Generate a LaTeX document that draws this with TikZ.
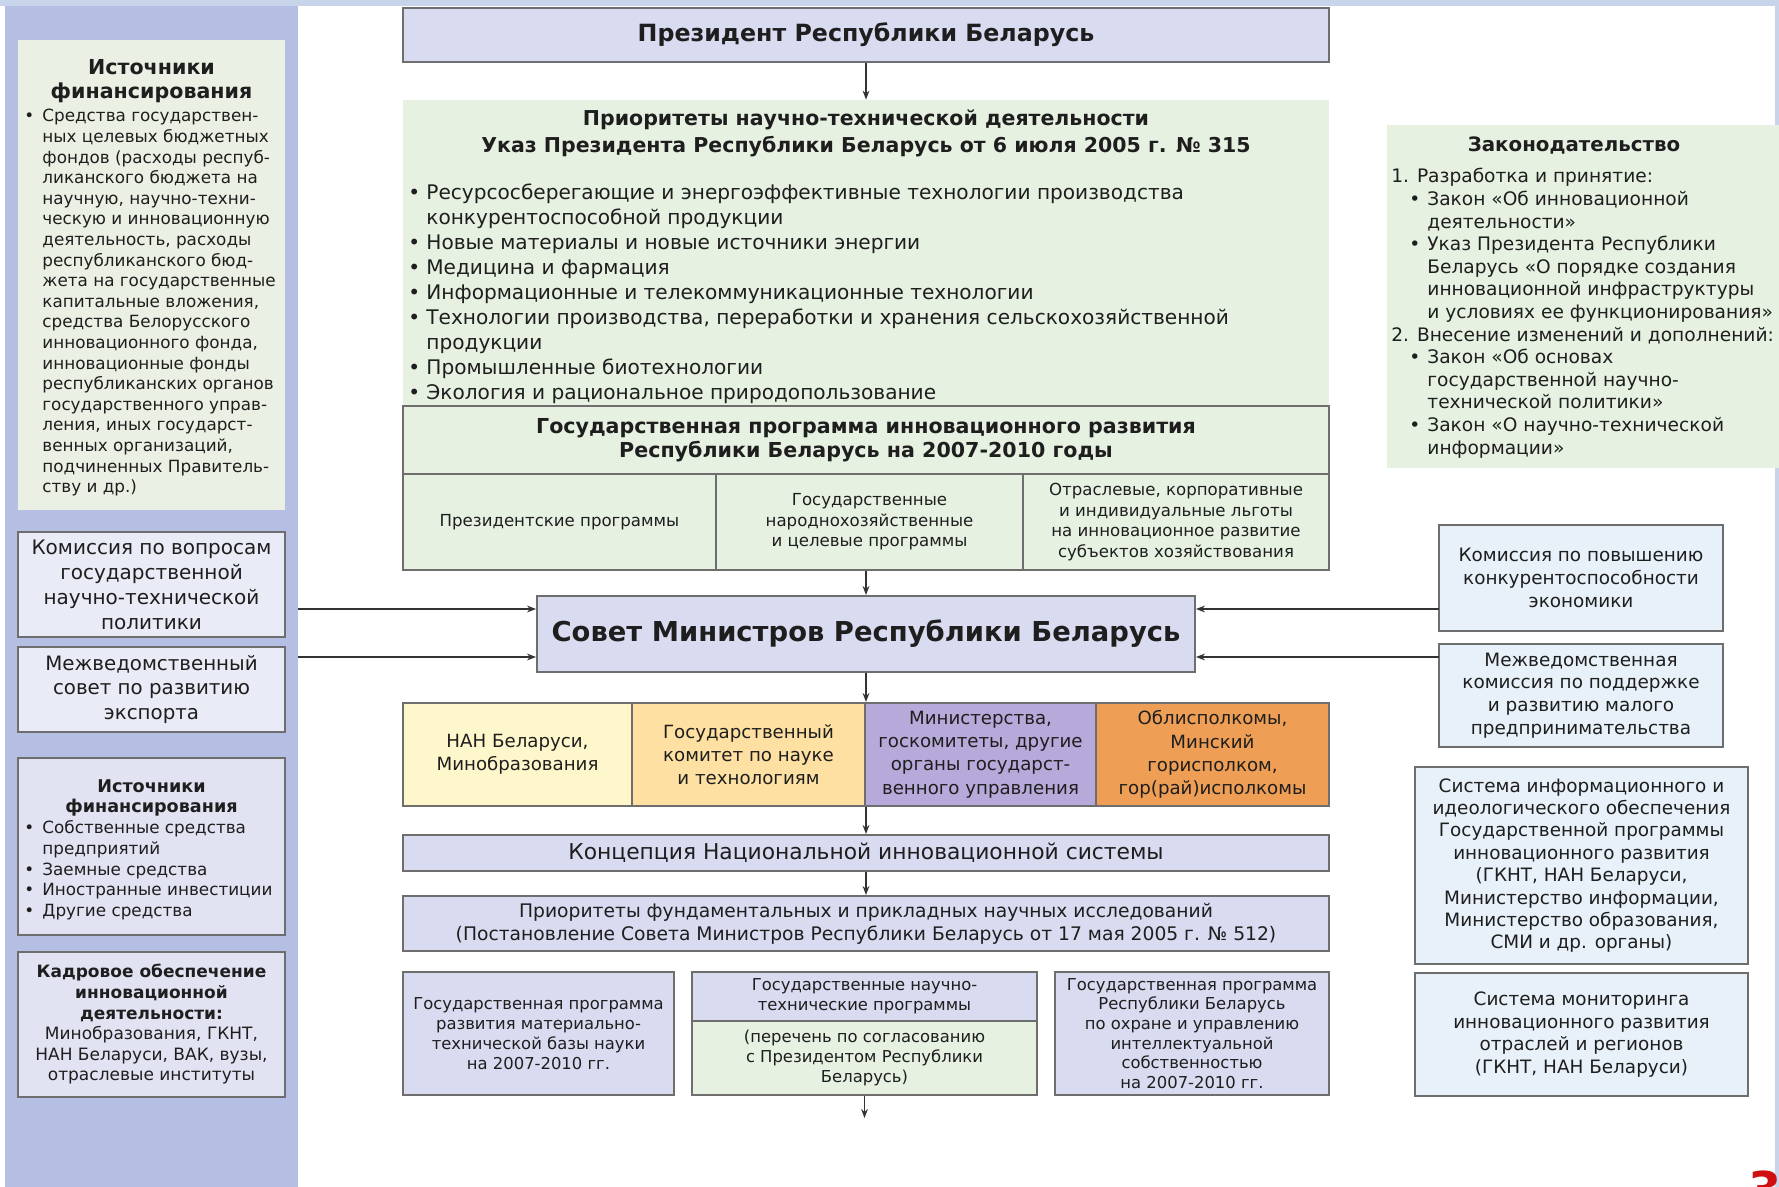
\documentclass[tikz,border=0pt]{standalone}
\usepackage{fontspec}
\setmainfont{DejaVu Sans}
\usetikzlibrary{arrows.meta}
\definecolor{panel}{HTML}{B5BFE3}
\definecolor{lgreen}{HTML}{E7F1E2}
\definecolor{lgreenb}{HTML}{EAF1E4}
\definecolor{lav}{HTML}{D9DBF0}
\definecolor{lav2}{HTML}{E1E3F3}
\definecolor{lav3}{HTML}{E9ECF6}
\definecolor{lblue}{HTML}{E8F1F9}
\definecolor{bline}{HTML}{6E6E6E}
\definecolor{txt}{HTML}{1E1E1E}
\definecolor{cyel}{HTML}{FFF7CC}
\definecolor{cora}{HTML}{FDE0A2}
\definecolor{cpur}{HTML}{B7A9D9}
\definecolor{corg}{HTML}{EE9F55}
\definecolor{slide}{HTML}{C8D4EA}
\definecolor{pnum}{HTML}{D01010}
\newcommand\fsz[2]{\fontsize{#1}{#2}\selectfont}
\newcommand\bu{\makebox[9pt][l]{•}}
\newcommand\bi{\hspace*{9pt}}
\tikzset{
 bx/.style={draw=bline, line width=1pt, inner sep=0pt, text=txt, align=center},
 nb/.style={inner sep=0pt, text=txt, align=center},
 lst/.style={inner sep=0pt, text=txt, align=left, anchor=north west},
 arr/.style={draw=black!80, line width=0.7pt, -{Stealth[length=4.5pt,width=3.4pt]}},
}
\begin{document}
\begin{tikzpicture}[x=0.5pt,y=-0.5pt]
\useasboundingbox (0,0) rectangle (1779,1187);
\fill[white] (0,0) rectangle (1779,1187);
\fill[slide] (0,0) rectangle (1779,6);
\fill[slide] (1775,0) rectangle (1779,1187);

% ---------- left panel ----------
\node[fill=panel, inner sep=0pt, minimum width=146.5pt, minimum height=590.5pt] (panel) at (151.5,596.5) {};
\node[nb, fill=lgreenb, minimum width=133.5pt, minimum height=235pt] (src1) at (151.5,275) {};
\node[nb, font={\fsz{10.3}{12}\bfseries}] (src1h) at (151.5,81) {Источники\\финансирования};
\node[lst, font={\fsz{8.4}{10.3}}] (src1l) at (24,109) {%
\bu Средства государствен-\\
\bi ных целевых бюджетных\\
\bi фондов (расходы респуб-\\
\bi ликанского бюджета на\\
\bi научную, научно-техни-\\
\bi ческую и инновационную\\
\bi деятельность, расходы\\
\bi республиканского бюд-\\
\bi жета на государственные\\
\bi капитальные вложения,\\
\bi средства Белорусского\\
\bi инновационного фонда,\\
\bi инновационные фонды\\
\bi республиканских органов\\
\bi государственного управ-\\
\bi ления, иных государст-\\
\bi венных организаций,\\
\bi подчиненных Правитель-\\
\bi ству и др.)};

\node[bx, fill=lav3, minimum width=133.5pt, minimum height=52.5pt, font={\fsz{10}{12.5}}] (kom1) at (151.5,584.5)
 {Комиссия по вопросам\\государственной\\научно-технической\\политики};
\node[bx, fill=lav3, minimum width=133.5pt, minimum height=42.5pt, font={\fsz{9.9}{12.3}}] (mezh1) at (151.5,689.5)
 {Межведомственный\\совет по развитию\\экспорта};
\node[bx, fill=lav2, minimum width=133.5pt, minimum height=88.5pt] (src2) at (151.5,846.5) {};
\node[nb, font={\fsz{8.8}{10.4}\bfseries}] (src2h) at (151.5,798) {Источники\\финансирования};
\node[lst, font={\fsz{8.4}{10.4}}] (src2l) at (24,820) {%
\bu Собственные средства\\
\bi предприятий\\
\bu Заемные средства\\
\bu Иностранные инвестиции\\
\bu Другие средства};
\node[bx, fill=lav2, minimum width=133.5pt, minimum height=72.5pt, font={\fsz{8.5}{10.3}}] (kadr) at (151.5,1024.5)
 {\bfseries Кадровое обеспечение\\\bfseries инновационной\\\bfseries деятельности:\\Минобразования, ГКНТ,\\НАН Беларуси, ВАК, вузы,\\отраслевые институты};

\coordinate (lk1) at (298,609);
\coordinate (lk2) at (298,657);

% ---------- centre ----------
\node[bx, fill=lav, minimum width=463pt, minimum height=27pt, font={\fsz{11.85}{14}\bfseries}] (pres) at (866,35)
 {Президент Республики Беларусь};
\node[nb, fill=lgreen, minimum width=463pt, minimum height=153pt] (prior) at (866,253) {};
\node[nb, font={\fsz{10.25}{13.5}\bfseries}] (priorh) at (866,133) {Приоритеты научно-технической деятельности\\Указ Президента Республики Беларусь от 6 июля 2005 г. № 315};
\node[lst, font={\fsz{10.05}{12.5}}] (priorl) at (408,183) {%
\bu Ресурсосберегающие и энергоэффективные технологии производства\\
\bi конкурентоспособной продукции\\
\bu Новые материалы и новые источники энергии\\
\bu Медицина и фармация\\
\bu Информационные и телекоммуникационные технологии\\
\bu Технологии производства, переработки и хранения сельскохозяйственной\\
\bi продукции\\
\bu Промышленные биотехнологии\\
\bu Экология и рациональное природопользование};

\node[bx, fill=lgreen, minimum width=463pt, minimum height=34pt, font={\fsz{10.3}{12}\bfseries}] (gp) at (866,440)
 {Государственная программа инновационного развития\\Республики Беларусь на 2007-2010 годы};
\node[bx, fill=lgreen, minimum width=156.5pt, minimum height=48pt, font={\fsz{8.3}{10.2}}] (c1) at (559.5,522)
 {Президентские программы};
\node[bx, fill=lgreen, minimum width=153.5pt, minimum height=48pt, font={\fsz{8.3}{10.2}}] (c2) at (869.5,522)
 {Государственные\\народнохозяйственные\\и целевые программы};
\node[bx, fill=lgreen, minimum width=153pt, minimum height=48pt, font={\fsz{8.3}{10.2}}] (c3) at (1176,522)
 {Отраслевые, корпоративные\\и индивидуальные льготы\\на инновационное развитие\\субъектов хозяйствования};

\node[bx, fill=lav, minimum width=329pt, minimum height=38pt, font={\fsz{13.7}{16}\bfseries}] (sovet) at (866,634)
 {Совет Министров Республики Беларусь};

\node[bx, fill=cyel, minimum width=114.5pt, minimum height=51.5pt, font={\fsz{9.1}{11.6}}] (r1) at (517.5,754.5)
 {НАН Беларуси,\\Минобразования};
\node[bx, fill=cora, minimum width=116.5pt, minimum height=51.5pt, font={\fsz{9.1}{11.6}}] (r2) at (748.5,754.5)
 {Государственный\\комитет по науке\\и технологиям};
\node[bx, fill=cpur, minimum width=115.5pt, minimum height=51.5pt, font={\fsz{9.1}{11.6}}] (r3) at (980.5,754.5)
 {Министерства,\\госкомитеты, другие\\органы государст-\\венного управления};
\node[bx, fill=corg, minimum width=116.5pt, minimum height=51.5pt, font={\fsz{9.1}{11.6}}] (r4) at (1212.5,754.5)
 {Облисполкомы,\\Минский\\горисполком,\\гор(рай)исполкомы};

\node[bx, fill=lav, minimum width=463pt, minimum height=18pt, font={\fsz{10.9}{13}}] (konc) at (866,853)
 {Концепция Национальной инновационной системы};
\node[bx, fill=lav, minimum width=463pt, minimum height=27.5pt, font={\fsz{9.35}{11.5}}] (fund) at (866,923.5)
 {Приоритеты фундаментальных и прикладных научных исследований\\(Постановление Совета Министров Республики Беларусь от 17 мая 2005 г. № 512)};

\node[bx, fill=lav, minimum width=135.5pt, minimum height=61.5pt, font={\fsz{8.2}{10}}] (b1) at (538.5,1033.5)
 {Государственная программа\\развития материально-\\технической базы науки\\на 2007-2010 гг.};
\node[bx, fill=lav, minimum width=172.5pt, minimum height=24.5pt, font={\fsz{8.2}{10}}] (b2h) at (864.5,996.5)
 {Государственные научно-\\технические программы};
\node[bx, fill=lgreen, minimum width=172.5pt, minimum height=37pt, font={\fsz{8.2}{10}}] (b2b) at (864.5,1058)
 {(перечень по согласованию\\с Президентом Республики\\Беларусь)};
\node[bx, fill=lav, minimum width=137pt, minimum height=61.5pt, font={\fsz{8.2}{9.8}}] (b3) at (1192,1033.5)
 {Государственная программа\\Республики Беларусь\\по охране и управлению\\интеллектуальной\\собственностью\\на 2007-2010 гг.};
\coordinate (bend) at (864.5,1118);

% ---------- right ----------
\node[nb, fill=lgreen, minimum width=196pt, minimum height=171.5pt] (zak) at (1583,296.5) {};
\node[nb, font={\fsz{9.9}{12}\bfseries}] (zakh) at (1574,146) {Законодательство};
\node[lst, font={\fsz{9.3}{11.3}}] (zakl) at (1391,168) {%
1. Разработка и принятие:\\
\hspace*{9pt}\bu Закон «Об инновационной\\
\hspace*{9pt}\bi деятельности»\\
\hspace*{9pt}\bu Указ Президента Республики\\
\hspace*{9pt}\bi Беларусь «О порядке создания\\
\hspace*{9pt}\bi инновационной инфраструктуры\\
\hspace*{9pt}\bi и условиях ее функционирования»\\
2. Внесение изменений и дополнений:\\
\hspace*{9pt}\bu Закон «Об основах\\
\hspace*{9pt}\bi государственной научно-\\
\hspace*{9pt}\bi технической политики»\\
\hspace*{9pt}\bu Закон «О научно-технической\\
\hspace*{9pt}\bi информации»};

\node[bx, fill=lblue, minimum width=142pt, minimum height=53pt, font={\fsz{9.2}{11.3}}] (rk1) at (1581,578)
 {Комиссия по повышению\\конкурентоспособности\\экономики};
\node[bx, fill=lblue, minimum width=142pt, minimum height=51.5pt, font={\fsz{9.2}{11.3}}] (rk2) at (1581,695.5)
 {Межведомственная\\комиссия по поддержке\\и развитию малого\\предпринимательства};
\node[bx, fill=lblue, minimum width=166.5pt, minimum height=98.5pt, font={\fsz{9.2}{11.2}}] (rs1) at (1581.5,865.5)
 {Система информационного и\\идеологического обеспечения\\Государственной программы\\инновационного развития\\(ГКНТ, НАН Беларуси,\\Министерство информации,\\Министерство образования,\\СМИ и др. органы)};
\node[bx, fill=lblue, minimum width=166.5pt, minimum height=61.5pt, font={\fsz{9.2}{11.3}}] (rs2) at (1581.5,1034.5)
 {Система мониторинга\\инновационного развития\\отраслей и регионов\\(ГКНТ, НАН Беларуси)};

\coordinate (rc1) at (1439,609);
\coordinate (rc2) at (1439,657);

% ---------- connectors ----------
\draw[arr] (pres.south) -- (prior.north);
\draw[arr] (sovet.north |- c2.south) -- (sovet.north);
\draw[arr] (sovet.south) -- (sovet.south |- r2.north);
\draw[arr] (konc.north |- r2.south) -- (konc.north);
\draw[arr] (konc.south) -- (fund.north);
\draw[arr] (b2b.south) -- (bend);
\draw[arr] (lk1) -- (sovet.west |- lk1);
\draw[arr] (lk2) -- (sovet.west |- lk2);
\draw[arr] (rc1) -- (sovet.east |- rc1);
\draw[arr] (rc2) -- (sovet.east |- rc2);

\node[anchor=north west, inner sep=0pt, text=pnum, font={\fsz{24}{26}\bfseries}] (pg) at (1748,1170) {3};
\end{tikzpicture}
\end{document}
